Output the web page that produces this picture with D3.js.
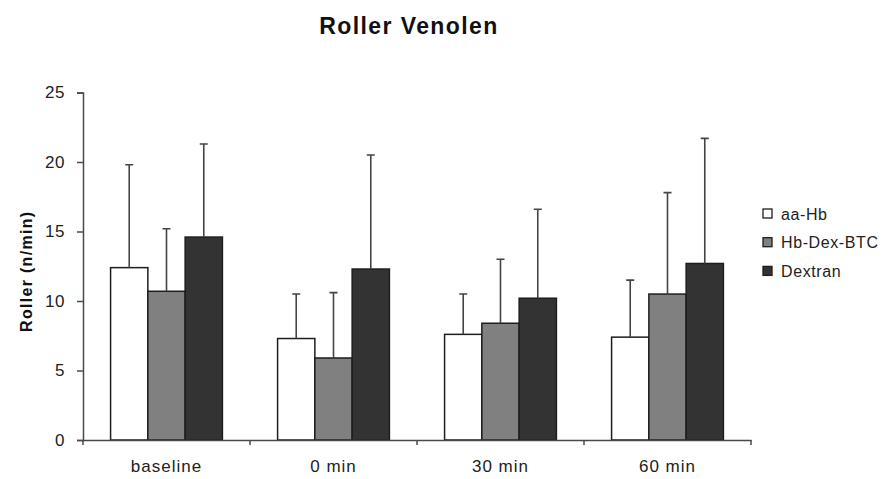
<!DOCTYPE html>
<html>
<head>
<meta charset="utf-8">
<script src="https://cdn.jsdelivr.net/npm/d3@7"></script>
<style>
  html, body { margin: 0; padding: 0; background: #fff; }
  svg { display: block; font-family: "Liberation Sans", Arial, sans-serif; }
</style>
</head>
<body>
<svg id="chart" width="887" height="479"></svg>
<script>
// Rolling leukocytes in venules, mean + SD per treatment group
const categories = ["baseline", "0 min", "30 min", "60 min"];
const seriesNames = ["aa-Hb", "Hb-Dex-BTC", "Dextran"];
const aaHbMean = [12.4, 7.3, 7.6, 7.4];
const aaHbSD = [7.4, 3.2, 2.9, 4.1];
const hbDexMean = [10.7, 5.9, 8.4, 10.5];
const hbDexSD = [4.5, 4.7, 4.6, 7.3];
const dextranMean = [14.6, 12.3, 10.2, 12.7];
const dextranSD = [6.7, 8.2, 6.4, 9.0];
const yTicks = [0, 5, 10, 15, 20, 25];

const fills = ["#ffffff", "#808080", "#333333"];
const means = [aaHbMean, hbDexMean, dextranMean];
const sds = [aaHbSD, hbDexSD, dextranSD];

const rows = categories.map((c, i) => ({
  category: c,
  values: seriesNames.map((s, k) => ({ series: s, k, mean: means[k][i], sd: sds[k][i] }))
}));

const svg = d3.select("#chart");
const plot = { left: 83, right: 751, top: 92.5, bottom: 440 };

const x0 = d3.scaleBand().domain(categories).range([plot.left, plot.right]).padding(0);
const x1 = d3.scaleBand().domain(seriesNames).range([0, x0.bandwidth()])
  .paddingInner(0).paddingOuter(0.74);
const y = d3.scaleLinear().domain([0, 25]).range([plot.bottom, plot.top]);

const axisColor = "#4a4a4a";
const textColor = "#222";

// Title
svg.append("text")
  .attr("x", 409).attr("y", 34)
  .attr("text-anchor", "middle")
  .style("font-size", "23px").style("font-weight", "bold")
  .style("letter-spacing", "1.4px")
  .attr("fill", "#111")
  .text("Roller Venolen");

// Y axis
const yAxis = svg.append("g")
  .attr("transform", `translate(${plot.left},0)`)
  .call(d3.axisLeft(y).tickValues(yTicks).tickSize(6).tickPadding(12));
yAxis.select(".domain").attr("stroke", axisColor).attr("stroke-width", 1.5);
yAxis.selectAll(".tick line").attr("stroke", axisColor).attr("stroke-width", 1.5);
yAxis.selectAll(".tick text")
  .style("font-size", "17px").style("font-family", "\"Liberation Sans\", Arial, sans-serif")
  .style("letter-spacing", "0.5px")
  .attr("fill", textColor);

// Y axis title
svg.append("text")
  .attr("transform", `translate(32,${(plot.top + plot.bottom) / 2 + 5}) rotate(-90)`)
  .attr("text-anchor", "middle")
  .style("font-size", "16px").style("font-weight", "bold")
  .style("letter-spacing", "1.3px")
  .attr("fill", "#111")
  .text("Roller (n/min)");

// Bars
const groups = svg.append("g").selectAll("g")
  .data(rows).join("g")
  .attr("transform", d => `translate(${x0(d.category)},0)`);

groups.selectAll("rect")
  .data(d => d.values).join("rect")
  .attr("x", d => x1(d.series))
  .attr("y", d => y(d.mean))
  .attr("width", x1.bandwidth())
  .attr("height", d => y(0) - y(d.mean))
  .attr("fill", d => fills[d.k])
  .attr("stroke", "#1e1e1e")
  .attr("stroke-width", 1.5);

// Error bars (upper SD)
const capHalf = 4;
groups.selectAll("path.err")
  .data(d => d.values).join("path")
  .attr("class", "err")
  .attr("d", d => {
    const cx = x1(d.series) + x1.bandwidth() / 2;
    const yb = y(d.mean), yt = y(d.mean + d.sd);
    return `M${cx},${yb}V${yt}M${cx - capHalf},${yt}H${cx + capHalf}`;
  })
  .attr("fill", "none")
  .attr("stroke", "#444")
  .attr("stroke-width", 1.6);

// X axis with category labels
const xAxis = svg.append("g")
  .attr("transform", `translate(0,${plot.bottom})`)
  .call(d3.axisBottom(x0).tickSize(0).tickPadding(20));
xAxis.select(".domain").attr("stroke", axisColor).attr("stroke-width", 1.5);
xAxis.selectAll(".tick text")
  .style("font-size", "17px").style("font-family", "\"Liberation Sans\", Arial, sans-serif")
  .style("letter-spacing", "1px")
  .attr("fill", textColor);

// Separator ticks between categories
const boundaries = [plot.left].concat(categories.map(c => x0(c) + x0.bandwidth()));
svg.append("g").selectAll("line")
  .data(boundaries).join("line")
  .attr("x1", d => d).attr("x2", d => d)
  .attr("y1", plot.bottom).attr("y2", plot.bottom + 5)
  .attr("stroke", axisColor).attr("stroke-width", 1.5);

// Legend
const legend = svg.append("g").attr("transform", "translate(763,209)");
const items = legend.selectAll("g").data(seriesNames).join("g")
  .attr("transform", (d, i) => `translate(0,${i * 28.7})`);
items.append("rect")
  .attr("x", 0).attr("y", 0).attr("width", 9).attr("height", 9)
  .attr("fill", (d, i) => fills[i])
  .attr("stroke", "#1e1e1e").attr("stroke-width", 1.3);
items.append("text")
  .attr("x", 18).attr("y", 10.5)
  .style("font-size", "16px")
  .style("letter-spacing", "0.6px")
  .attr("fill", textColor)
  .text(d => d);
</script>
</body>
</html>
